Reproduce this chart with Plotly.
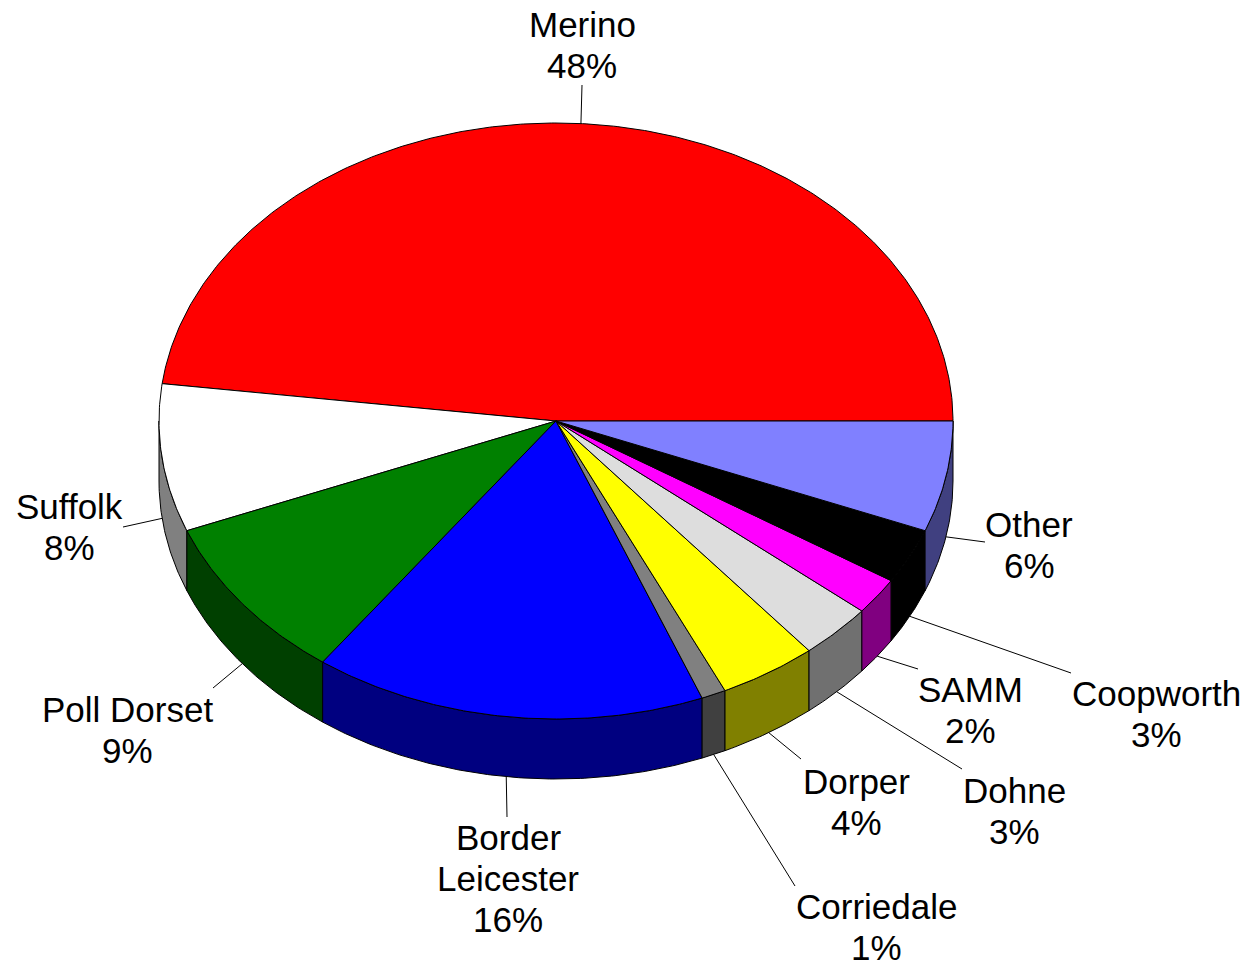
import numpy as np
import plotly.graph_objects as go

# Breed shares (%), drawn counter-clockwise from 3 o'clock
breeds = ["Merino", "Suffolk", "Poll Dorset", "Border Leicester", "Corriedale",
          "Dorper", "Dohne", "SAMM", "Coopworth", "Other"]
shares = [48, 8, 9, 16, 1, 4, 3, 2, 3, 6]
label_lines = [["Merino"], ["Suffolk"], ["Poll Dorset"], ["Border", "Leicester"],
               ["Corriedale"], ["Dorper"], ["Dohne"], ["SAMM"], ["Coopworth"], ["Other"]]

top_colors = ["#FF0000", "#FFFFFF", "#008000", "#0000FF", "#808080",
              "#FFFF00", "#DDDDDD", "#FF00FF", "#000000", "#8080FF"]
side_colors = ["#800000", "#808080", "#004000", "#000080", "#404040",
               "#808000", "#707070", "#800080", "#000000", "#404080"]

# Pie geometry in page pixels
CX, CY = 556.0, 421.0
RX, RY = 397.0, 298.0
DEPTH = 60.0
FONT = dict(family="Liberation Sans, Arial, sans-serif", size=35, color="black")
LINE_GAP = 41.3

# Label placement: text centre x, first baseline y, outer end of leader line
label_pos = {
    "Merino": (582, 36, (582, 85)),
    "Suffolk": (69, 518, (123, 527)),
    "Poll Dorset": (127, 721, (213, 688)),
    "Border Leicester": (508, 849, (507, 817)),
    "Corriedale": (876, 918, (795, 886)),
    "Dorper": (856, 793, (801, 759)),
    "Dohne": (1014, 802, (962, 769)),
    "SAMM": (970, 701, (918, 669)),
    "Coopworth": (1156, 705, (1071, 673)),
    "Other": (1029, 536, (985, 542)),
}


def rim(theta_deg, drop=0.0):
    t = np.radians(theta_deg)
    return CX + RX * np.cos(t), CY - RY * np.sin(t) + drop


def arc(a, b):
    n = max(3, int(abs(b - a) * 2) + 1)
    return np.linspace(a, b, n)


fig = go.Figure()

total = float(sum(shares))
bounds = np.concatenate([[0.0], np.cumsum(shares) / total * 360.0])

# Visible front walls (lower half of the ellipse)
for i in range(len(breeds)):
    a, b = max(bounds[i], 180.0), min(bounds[i + 1], 360.0)
    if a >= b:
        continue
    th = arc(a, b)
    xt, yt = rim(th)
    xb, yb = rim(th[::-1], DEPTH)
    xs = np.concatenate([xt, xb, xt[:1]])
    ys = np.concatenate([yt, yb, yt[:1]])
    fig.add_trace(go.Scatter(x=xs, y=ys, mode="lines", fill="toself",
                             fillcolor=side_colors[i],
                             line=dict(color="black", width=1),
                             hoverinfo="skip", showlegend=False))

# Top faces
for i in range(len(breeds)):
    th = arc(bounds[i], bounds[i + 1])
    xa, ya = rim(th)
    xs = np.concatenate([[CX], xa, [CX]])
    ys = np.concatenate([[CY], ya, [CY]])
    fig.add_trace(go.Scatter(x=xs, y=ys, mode="lines", fill="toself",
                             fillcolor=top_colors[i],
                             line=dict(color="black", width=1),
                             hoverinfo="skip", showlegend=False))

# Leader lines and labels
annotations = []
for i, name in enumerate(breeds):
    mid = (bounds[i] + bounds[i + 1]) / 2.0
    drop = DEPTH if np.sin(np.radians(mid)) < 0 else 0.0
    ax, ay = rim(mid, drop)
    tx, ty, (ex, ey) = label_pos[name]
    fig.add_trace(go.Scatter(x=[ax, ex], y=[ay, ey], mode="lines",
                             line=dict(color="black", width=1),
                             hoverinfo="skip", showlegend=False))
    lines = label_lines[i] + [f"{shares[i]}%"]
    for k, txt in enumerate(lines):
        annotations.append(dict(x=tx, y=ty + k * LINE_GAP - 12, xref="x", yref="y",
                                text=txt, showarrow=False, xanchor="center",
                                yanchor="middle", font=FONT))

fig.update_layout(
    width=1245, height=963,
    margin=dict(l=0, r=0, t=0, b=0),
    paper_bgcolor="white", plot_bgcolor="white",
    xaxis=dict(range=[0, 1245], visible=False, fixedrange=True),
    yaxis=dict(range=[963, 0], visible=False, fixedrange=True),
    annotations=annotations,
    showlegend=False,
)

fig.write_html("out.html", config={"displayModeBar": False})
